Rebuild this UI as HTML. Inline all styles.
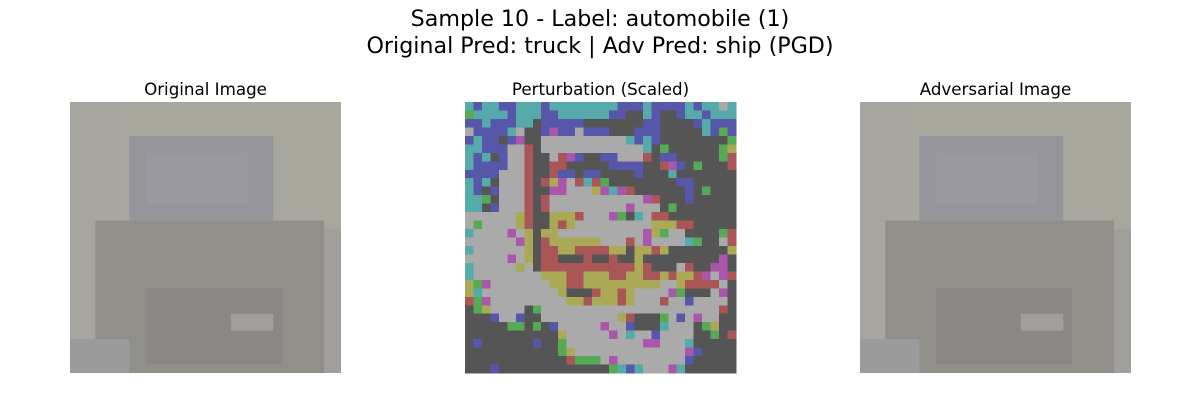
<!DOCTYPE html>
<html><head><meta charset="utf-8"><style>
body{margin:0;background:#fff;width:1200px;height:400px;overflow:hidden;font-family:"DejaVu Sans","Liberation Sans",sans-serif}
svg text{font-family:"DejaVu Sans","Liberation Sans",sans-serif;fill:#000}
#pert rect{shape-rendering:crispEdges}
</style></head><body>
<svg id="fig" width="1200" height="400">
<text x="600" y="26" text-anchor="middle" font-size="22.2">Sample 10 - Label: automobile (1)</text>
<text x="600" y="53" text-anchor="middle" font-size="22.2">Original Pred: truck | Adv Pred: ship (PGD)</text>
<text x="205.5" y="95" text-anchor="middle" font-size="16.7">Original Image</text>
<text x="600.5" y="95" text-anchor="middle" font-size="16.7">Perturbation (Scaled)</text>
<text x="995.5" y="95" text-anchor="middle" font-size="16.7">Adversarial Image</text>
<g id="orig"></g>
<g id="pert"></g>
<g id="adv"></g>
</svg>
<script>
const pertRows = [
"TBTTBBTTTBTTTTTT"+"TTBBBTBBBBTBTTLT",
"GTTTTBTTTBBTTTTT"+"TBBDDTBDDBTTBTTT",
"BBTBBBTTDBBBBBDD"+"DDDDDBBDDDDBTBBB",
"LBBBBTLDDBMBBLBB"+"BDDDBBBDDDDDTBGB",
"BTBBDBMDDLLLLLLL"+"LLLTBTBDDDDDDDDG",
"TTBBBLLRDLLLLLLL"+"LLLLLTDGDDDDDDGY",
"TBTDBLLRDDLRMBDD"+"BBLLLRDBBDDDDDGR",
"TBBBBLLRDDRRDDDD"+"DBBBBDDRMBDGDDDR",
"BBBBLLLRDDRBBDBB"+"DDDDBDDDTDDDDDDD",
"TBTDLLLRDRYMLRTR"+"GDDDDDDDDBBDDDDD",
"TBDBLLLRDDMMLLLY"+"MTMRDDDDDDBDGDDD",
"TTGDLLLRDRLLLLLL"+"LLLLLMRDDDBDDDDD",
"TTDBLLLRDRLLLLLL"+"LLLMLLLDGDDDDDDD",
"LLLLLLYRDDYYYRLL"+"LMGDTLRRDDDDDDDD",
"LGLLLLYRDDYRYLLL"+"LLLLLLYYYRRDDDDD",
"TLLLLMLYDYYLLLLL"+"LLLLLMYGLLDDDDGR",
"LLLLLLMYDRYYYYYY"+"LLLRLMLLLLTGDDLR",
"TLLLLLLYDRRYYRRR"+"RYYDYYRYDDDDDDDY",
"LLLLLMLYDRRDDDRD"+"DRDDYDDDDDDDDDMD",
"TLLLLLYLDRRRRRRR"+"RRRRYRDDDLRDDMMD",
"TLLLLLLLLYYYRRYY"+"YRRYYRRYRYYRMLMR",
"YGMLLLLLLLYYRRYY"+"YYYYYYYLLYRRRRLD",
"YTLLLLLLLLLYDDDR"+"YYRYLLLLMGDDDLMD",
"RGMLLLLLLLLLYYRY"+"YYRYLLLRLLBLLLLD",
"DGYLLLLDGLLLLLLL"+"LLLLLLLLLLLLLLRD",
"DDDBLLBDDLLLLLLL"+"LLYRDDDGLBLMLLDD",
"DDDDDGGDGDBLLLLL"+"MLLBDDDTLLLDGYDD",
"DDDDDDDDDDDYLLLL"+"LMLTLLBLLLLDDGDR",
"DBDDDDDDBDDGLLLL"+"LLLLLMMLLLTDDDDD",
"DDDDDDDDDDDGYLLL"+"LLLLLLLLLLMBDDDD",
"DDDDDDDDDDDDRGGG"+"LMLLLLLLLLBDDDDD",
"DDDBDDDDDDDDDDDD"+"DGTBTLLLMTDDDDDD"
];
const pertColors = {D:"#555555",L:"#aaaaaa",B:"#5656aa",T:"#56aaaa",R:"#aa5656",Y:"#aaaa56",G:"#56aa56",M:"#aa56aa"};
// original image regions in 32-cell units: [x, y, w, h, color]
const origRegions = [
 [0,0,32,32,"#a8a79d"],
 [0,0,6,32,"#a7a59f"],
 [7,4,17,10,"#97959c"],
 [9,6,12,6,"#9b9aa1"],
 [3,14,27,18,"#918f8a"],
 [9,22,16,9,"#8a8884"],
 [19,25,5,2,"#a19f9b"],
 [30,15,2,17,"#a19f9b"],
 [0,28,7,4,"#9c9b9c"]
];
const NS="http://www.w3.org/2000/svg";
const cell = 271/32;
function drawRegions(g, x0, y0){
  origRegions.forEach(r=>{
    const e=document.createElementNS(NS,"rect");
    e.setAttribute("x",x0+r[0]*cell);e.setAttribute("y",y0+r[1]*cell);
    e.setAttribute("width",r[2]*cell);e.setAttribute("height",r[3]*cell);
    e.setAttribute("fill",r[4]);
    
    
    g.appendChild(e);
  });
}
drawRegions(document.getElementById("orig"),70,102);
drawRegions(document.getElementById("adv"),860,102);
const pg=document.getElementById("pert");
pertRows.forEach((row,j)=>{
  for(let i=0;i<row.length;i++){
    const e=document.createElementNS(NS,"rect");
    e.setAttribute("x",465+i*cell);e.setAttribute("y",102+j*cell);
    e.setAttribute("width",cell+0.5);e.setAttribute("height",cell+0.5);
    e.setAttribute("fill",pertColors[row[i]]);
    
    
    pg.appendChild(e);
  }
});
</script>
</body></html>
